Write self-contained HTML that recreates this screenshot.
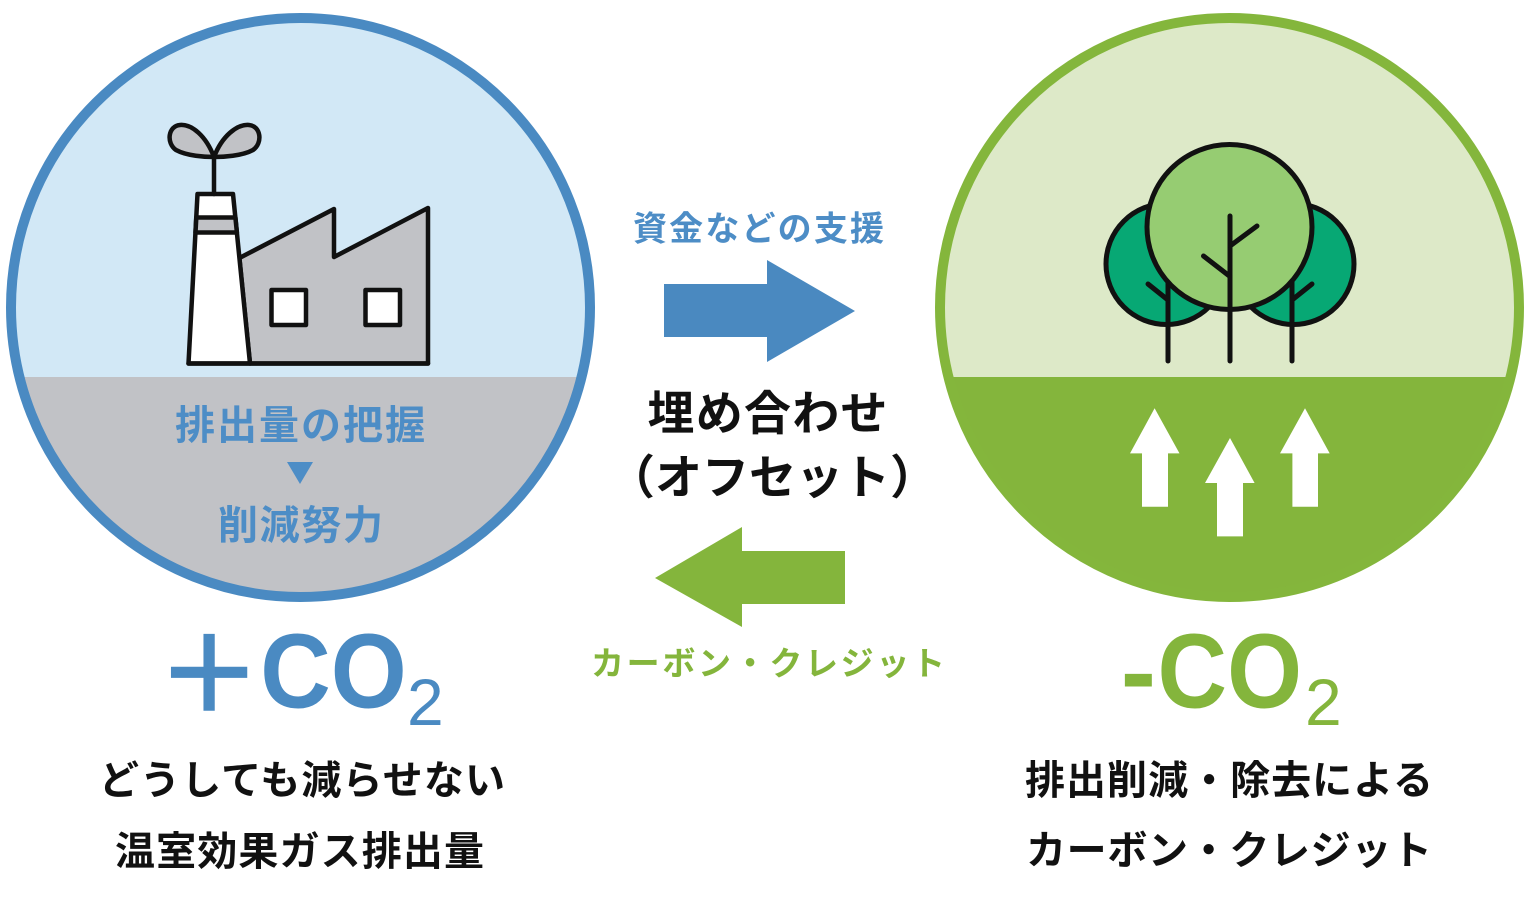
<!DOCTYPE html>
<html>
<head>
<meta charset="utf-8">
<style>
html,body{margin:0;padding:0;background:#fff;}
svg{display:block;}
.jp{font-family:"Liberation Sans","Noto Sans CJK JP",sans-serif;font-weight:700;}
.lat{font-family:"Liberation Sans",sans-serif;}
</style>
</head>
<body>
<svg width="1530" height="906" viewBox="0 0 1530 906" xmlns="http://www.w3.org/2000/svg">
<defs>
<clipPath id="cl"><circle cx="300.5" cy="307.5" r="290"/></clipPath>
<clipPath id="cr"><circle cx="1229.5" cy="307.5" r="290"/></clipPath>
</defs>
<rect width="1530" height="906" fill="#ffffff"/>

<!-- LEFT CIRCLE -->
<circle cx="300.5" cy="307.5" r="290" fill="#d2e8f6"/>
<rect x="0" y="377" width="620" height="300" fill="#c1c2c6" clip-path="url(#cl)"/>
<circle cx="300.5" cy="307.5" r="289.5" fill="none" stroke="#4a8ac2" stroke-width="10"/>

<!-- factory -->
<g stroke="#111" stroke-width="4.5" stroke-linejoin="round" stroke-linecap="round">
  <path d="M239.4,258 L334,209 L334,257 L428,208 L428,363.5 L250,363.5 Z" fill="#c1c2c6"/>
  <path d="M188.5,363.5 L197.5,194 L233,194 L250,363.5 Z" fill="#ffffff"/>
  <path d="M196.3,217.5 L235.4,217.5 L236.9,232.5 L195.5,232.5 Z" fill="#c1c2c6"/>
  <line x1="188.5" y1="363.5" x2="428" y2="363.5"/>
  <rect x="271.5" y="290" width="34.5" height="35" fill="#ffffff"/>
  <rect x="365.5" y="290" width="34.5" height="35" fill="#ffffff"/>
  <line x1="214" y1="158" x2="214" y2="194"/>
  <path d="M214,157 C206,136 192,124 180,125 C168,126 166,143 176,150 C187,156 205,157 214,157 Z" fill="#c1c2c6"/>
  <path d="M214,157 C222,136 237,124 249,125 C261,126 263,143 253,150 C242,156 223,157 214,157 Z" fill="#c1c2c6"/>
</g>

<text class="jp" x="175" y="439" font-size="40" fill="#4d8dc6" textLength="250" lengthAdjust="spacing">排出量の把握</text>
<polygon points="287,462 313,462 300,484" fill="#4d8dc6"/>
<text class="jp" x="218" y="539" font-size="40" fill="#4d8dc6" textLength="165" lengthAdjust="spacing">削減努力</text>

<!-- RIGHT CIRCLE -->
<circle cx="1229.5" cy="307.5" r="290" fill="#dde9c8"/>
<rect x="920" y="377" width="620" height="300" fill="#84b53c" clip-path="url(#cr)"/>
<circle cx="1229.5" cy="307.5" r="289.5" fill="none" stroke="#84b63c" stroke-width="10"/>

<!-- trees -->
<g stroke="#111" stroke-width="5" stroke-linecap="round" stroke-linejoin="round">
  <circle cx="1166.5" cy="264" r="60.5" fill="#07a874"/>
  <circle cx="1293.5" cy="264" r="60.5" fill="#07a874"/>
  <line x1="1168" y1="270" x2="1168" y2="361"/>
  <line x1="1168" y1="300" x2="1148" y2="284"/>
  <line x1="1292" y1="270" x2="1292" y2="361"/>
  <line x1="1292" y1="300" x2="1312" y2="284"/>
  <circle cx="1229.5" cy="227" r="82.5" fill="#96cc72"/>
  <line x1="1230" y1="216" x2="1230" y2="361"/>
  <line x1="1230" y1="246" x2="1257" y2="226"/>
  <line x1="1230" y1="276.5" x2="1203.5" y2="256"/>
</g>

<!-- white arrows -->
<g fill="#ffffff">
  <polygon points="1154.6,408.3 1179.5,453.4 1168,453.4 1168,506.7 1142,506.7 1142,453.4 1130,453.4"/>
  <polygon points="1230,438 1254.6,483 1243,483 1243,536.4 1217,536.4 1217,483 1205,483"/>
  <polygon points="1305,408.3 1329.7,453.4 1318,453.4 1318,506.7 1292.4,506.7 1292.4,453.4 1280,453.4"/>
</g>

<!-- CENTER -->
<text class="jp" x="633" y="240.5" font-size="34" fill="#4d8dc6" textLength="251" lengthAdjust="spacing">資金などの支援</text>
<polygon points="664,284 767,284 767,260 855,311 767,362 767,337 664,337" fill="#4a89c0"/>
<text class="jp" x="647.5" y="430" font-size="47" fill="#111" textLength="240" lengthAdjust="spacing">埋め合わせ</text>
<text class="jp" x="608" y="494" font-size="47" fill="#111" textLength="329" lengthAdjust="spacing">（オフセット）</text>
<polygon points="655,578 742,527 742,551 845,551 845,604 742,604 742,627" fill="#84b53c"/>
<text class="jp" x="591" y="675" font-size="33" fill="#84b53c" textLength="354" lengthAdjust="spacing">カーボン・クレジット</text>

<!-- LEFT BOTTOM -->
<text class="lat" x="163.3" y="724.5" font-size="157" fill="#4a8ac2">+</text>
<text class="lat" x="260.2" y="707.5" font-size="106" font-weight="700" fill="#4a8ac2" textLength="146.6" lengthAdjust="spacingAndGlyphs">CO</text>
<text class="lat" x="407" y="725" font-size="66" fill="#4a8ac2">2</text>
<text class="jp" x="99" y="794" font-size="40" fill="#111" textLength="406" lengthAdjust="spacing">どうしても減らせない</text>
<text class="jp" x="115" y="865" font-size="40" fill="#111" textLength="369" lengthAdjust="spacing">温室効果ガス排出量</text>

<!-- RIGHT BOTTOM -->
<text class="lat" x="1120.8" y="707.5" font-size="106" font-weight="700" fill="#84b53c">-</text>
<text class="lat" x="1157.5" y="707.5" font-size="106" font-weight="700" fill="#84b53c" textLength="144.5" lengthAdjust="spacingAndGlyphs">CO</text>
<text class="lat" x="1305" y="725" font-size="66" fill="#84b53c">2</text>
<text class="jp" x="1025" y="794" font-size="40" fill="#111" textLength="408" lengthAdjust="spacing">排出削減・除去による</text>
<text class="jp" x="1026" y="864" font-size="40" fill="#111" textLength="406" lengthAdjust="spacing">カーボン・クレジット</text>
</svg>
</body>
</html>
